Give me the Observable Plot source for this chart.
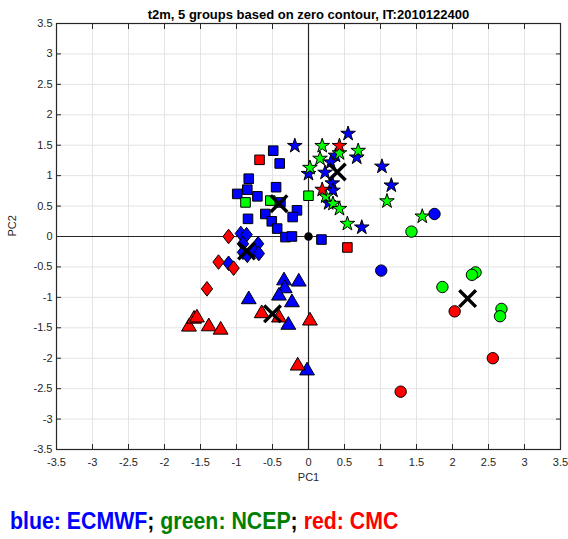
<!DOCTYPE html>
<html><head><meta charset="utf-8">
<script src="https://cdn.jsdelivr.net/npm/d3@7"></script>
<script src="https://cdn.jsdelivr.net/npm/@observablehq/plot@0.6"></script>
<style>
body{margin:0;background:#fff;font-family:"Liberation Sans",Arial,sans-serif;}
#legend{margin:16px 0 0 10px;font-weight:bold;font-size:24px;line-height:29px;white-space:nowrap;color:#000;display:inline-block;transform:scaleX(0.888);transform-origin:0 0;}
</style></head><body>
<div id="chart"></div>
<div id="legend"></div>
<script>
// ---- data ----
const title = "t2m, 5 groups based on zero contour, IT:2010122400";
const xLabel = "PC1", yLabel = "PC2";
const tickValues = [-3.5,-3,-2.5,-2,-1.5,-1,-0.5,0,0.5,1,1.5,2,2.5,3,3.5];
const models = ["ECMWF","NCEP","CMC"];
const colorNames = ["blue","green","red"];
const markerColors = ["#0000ff","#00ff00","#ff0000"];
const legendColors = ["#0000ff","#008000","#ff0000"];

const starECMWF = [[-0.19,1.49],[0.55,1.69],[0.375,1.33],[0.67,1.30],[0.31,1.22],[0.00,1.03],[0.23,1.05],[1.02,1.15],[1.15,0.84],[0.33,0.875],[0.34,0.755],[0.28,0.55],[0.74,0.15]];
const starNCEP = [[0.19,1.49],[0.43,1.37],[0.69,1.41],[0.16,1.28],[0.02,1.13],[1.09,0.58],[0.24,0.66],[0.34,0.54],[0.43,0.455],[0.54,0.21],[1.58,0.33]];
const starCMC = [[0.43,1.49],[0.19,0.77]];

const squareECMWF = [[-0.49,1.41],[-0.40,1.20],[-0.83,0.95],[-0.85,0.77],[-0.99,0.70],[-0.71,0.66],[-0.45,0.81],[-0.39,0.56],[-0.16,0.43],[-0.22,0.32],[-0.60,0.37],[-0.84,0.29],[-0.51,0.25],[-0.435,0.13],[-0.32,-0.01],[-0.23,0.0],[0.18,-0.05]];
const squareNCEP = [[-0.875,0.56],[-0.53,0.59],[0.0,0.67]];
const squareCMC = [[-0.68,1.26],[0.54,-0.18]];

const diamondECMWF = [[-0.94,0.05],[-0.86,0.03],[-0.91,-0.12],[-0.70,-0.12],[-0.76,-0.23],[-0.69,-0.28],[-0.91,-0.26],[-0.85,-0.31],[-1.11,-0.44]];
const diamondNCEP = [];
const diamondCMC = [[-1.11,0.0],[-1.25,-0.42],[-1.04,-0.52],[-1.41,-0.86]];

const triangleECMWF = [[-0.34,-0.69],[-0.135,-0.71],[-0.33,-0.82],[-0.41,-0.94],[-0.23,-1.05],[-0.83,-1.00],[-0.28,-1.42],[-0.02,-2.17]];
const triangleNCEP = [];
const triangleCMC = [[-1.66,-1.45],[-1.59,-1.32],[-1.55,-1.30],[-1.385,-1.445],[-1.22,-1.50],[-0.65,-1.23],[-0.41,-1.30],[0.02,-1.35],[-0.15,-2.09]];

const circleECMWF = [[1.75,0.37],[1.01,-0.56]];
const circleNCEP = [[1.43,0.08],[2.32,-0.59],[2.27,-0.63],[1.86,-0.83],[2.68,-1.19],[2.66,-1.31]];
const circleCMC = [[2.03,-1.23],[2.56,-2.0],[1.28,-2.55]];

const centroids = [[0.40,1.06],[-0.41,0.54],[-0.86,-0.24],[-0.50,-1.27],[2.21,-1.02]];
const originPoint = [[0,0]];

// ---- custom MATLAB-like marker shapes ----
const symDiamond = {draw(c, size){const r=Math.sqrt(size/Math.PI);const h=r*1.35,w=r*1.05;c.moveTo(0,-h);c.lineTo(w,0);c.lineTo(0,h);c.lineTo(-w,0);c.closePath();}};
const symTriangle = {draw(c, size){const r=Math.sqrt(size/Math.PI);const h=r*1.2,w=r*1.4;c.moveTo(0,-h);c.lineTo(w,h);c.lineTo(-w,h);c.closePath();}};
const symTimes = {draw(c, size){const r=Math.sqrt(size/Math.PI);c.moveTo(-r,-r);c.lineTo(r,r);c.moveTo(r,-r);c.lineTo(-r,r);}};

const groups = [
  {symbol:"star", r:4.6, sets:[starECMWF, starNCEP, starCMC]},
  {symbol:"square", r:5.4, sets:[squareECMWF, squareNCEP, squareCMC]},
  {symbol:symDiamond, r:5.4, sets:[diamondECMWF, diamondNCEP, diamondCMC]},
  {symbol:symTriangle, r:5.3, sets:[triangleECMWF, triangleNCEP, triangleCMC]},
  {symbol:"circle", r:5.7, sets:[circleECMWF, circleNCEP, circleCMC]}
];

const pointMarks = [];
for (const g of groups) {
  g.sets.forEach((set, i) => {
    pointMarks.push(Plot.dot(set, {x: d => d[0], y: d => d[1], symbol: g.symbol, r: g.r,
      fill: markerColors[i], stroke: "black", strokeWidth: 1}));
  });
}

const fmt = d => String(d);
const plot = Plot.plot({
  width: 568, height: 490,
  marginLeft: 56, marginRight: 8, marginTop: 23, marginBottom: 41,
  x: {domain: [-3.5, 3.5]},
  y: {domain: [-3.5, 3.5]},
  style: {fontFamily: "'Liberation Sans', Arial, sans-serif", fontSize: "11px", background: "white", color: "#262626", overflow: "visible"},
  marks: [
    Plot.gridX(tickValues, {stroke: "#e3e3e3", strokeOpacity: 1}),
    Plot.gridY(tickValues, {stroke: "#e3e3e3", strokeOpacity: 1}),
    Plot.ruleX([0], {stroke: "#262626", strokeWidth: 1.2}),
    Plot.ruleY([0], {stroke: "#262626", strokeWidth: 1.2}),
    Plot.frame({stroke: "#262626", strokeWidth: 1.2}),
    // inward ticks on all four sides
    Plot.axisX(tickValues, {anchor: "bottom", tickSize: 5, dy: -5, fill: "none", stroke: "#262626", label: null}),
    Plot.axisX(tickValues, {anchor: "top", tickSize: 5, dy: 5, fill: "none", stroke: "#262626", label: null}),
    Plot.axisY(tickValues, {anchor: "left", tickSize: 5, dx: 5, fill: "none", stroke: "#262626", label: null}),
    Plot.axisY(tickValues, {anchor: "right", tickSize: 5, dx: -5, fill: "none", stroke: "#262626", label: null}),
    // tick labels
    Plot.axisX(tickValues, {anchor: "bottom", tickSize: 0, tickPadding: 9, tickFormat: fmt, fill: "#262626", stroke: "none", label: null}),
    Plot.axisY(tickValues, {anchor: "left", tickSize: 0, tickPadding: 4, tickFormat: fmt, fill: "#262626", stroke: "none", label: null}),
    Plot.text([xLabel], {frameAnchor: "bottom", dy: 31, fill: "#262626", fontSize: 11}),
    Plot.text([yLabel], {frameAnchor: "left", dx: -44, rotate: -90, fill: "#262626", fontSize: 11}),
    Plot.text([title], {frameAnchor: "top", lineAnchor: "bottom", dy: -5, fontWeight: "bold", fontSize: 13, fill: "#000"}),
    ...pointMarks,
    Plot.dot(originPoint, {x: d => d[0], y: d => d[1], r: 3.5, fill: "black", stroke: "black"}),
    Plot.dot(centroids, {x: d => d[0], y: d => d[1], symbol: symTimes, r: 8.3, fill: "none", stroke: "black", strokeWidth: 3.4})
  ]
});
document.getElementById("chart").appendChild(plot);

const legend = document.getElementById("legend");
models.forEach((m, i) => {
  const s = document.createElement("span");
  s.style.color = legendColors[i];
  s.textContent = `${colorNames[i]}: ${m}`;
  legend.appendChild(s);
  if (i < models.length - 1) legend.appendChild(document.createTextNode("; "));
});
</script>
</body></html>
